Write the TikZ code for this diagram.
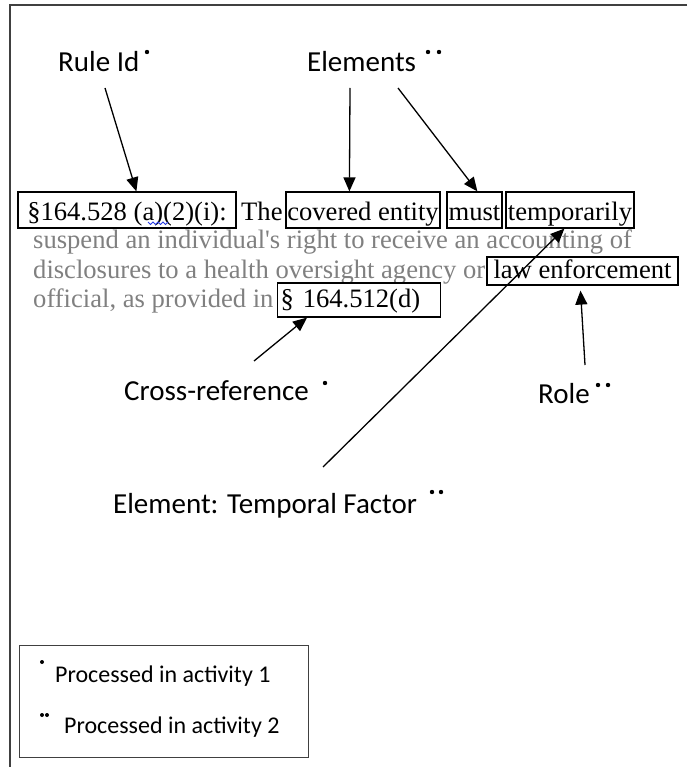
\documentclass[tikz,border=0pt]{standalone}
\usepackage{fontspec}
\setmainfont{Liberation Serif}
\newfontfamily\labelfont{Carlito}
\usetikzlibrary{arrows.meta}
\definecolor{bodygray}{gray}{0.5}
\definecolor{framegray}{gray}{0.25}
\definecolor{spellblue}{RGB}{40,60,230}

\begin{document}
\begin{tikzpicture}[x=1pt,y=-1pt,
  word/.style={draw=black, line width=1.2pt, inner sep=0pt, anchor=base,
    font=\fontsize{26.6}{30}\selectfont},
  body/.style={inner sep=0pt, anchor=base west, text=bodygray,
    font=\fontsize{26.6}{30}\selectfont},
  lbl/.style={inner sep=0pt, anchor=base west, font=\labelfont\fontsize{29}{34}\selectfont},
  leg/.style={inner sep=0pt, anchor=base west, font=\labelfont\fontsize{24}{28}\selectfont},
  arr/.style={line width=1.3pt, -{Triangle[length=14pt,width=12pt]}},
  dotmark/.style={fill=black}
]
\useasboundingbox (0,0) rectangle (687,767);

% open outer frame (top and left edges)
\draw[framegray, line width=1.5pt] (687,5) -- (10,5) -- (10,767);

% ---- the rule text ----
\node[word, minimum width=218, text height=28, text depth=8] (rid) at (127,220) {§164.528 (a)(2)(i):};
\node[body, text=black] (the) at (241,220) {The};
\node[word, minimum width=154, text height=28, text depth=8] (ce) at (363,220) {covered entity};
\node[word, minimum width=55, text height=28, text depth=8] (must) at (474.5,220) {must};
\node[word, minimum width=128, text height=28, text depth=8] (temp) at (570,220) {temporarily};

\node[body] (l2) at (33,248) {suspend an individual\textquotesingle s right to receive an accounting of};
\node[body] (l3) at (33,278) {disclosures to a health oversight agency or};
\node[word, minimum width=191, text height=21, text depth=7] (law) at (582.5,278) {law enforcement};
\node[body] (l4) at (33,307) {official, as provided in};
\node[word, anchor=base west, text width=157, inner xsep=3pt, align=left,
      text height=24, text depth=10] (xref) at (277,307) {§ 164.512(d)};

% spelling squiggle under "a)("
\draw[spellblue, line width=0.8pt] (148,222) -- (150.5,224.5) -- (153,222) -- (155.5,224.5) -- (158,222)
  -- (160.5,224.5) -- (163,222) -- (165.5,224.5) -- (168,222);

% ---- labels ----
\node[lbl] (ruleid) at (58,72) {Rule Id};
\node[lbl] (elements) at (307,72) {Elements};
\node[lbl] (xrefl) at (124,400) {Cross-reference};
\node[lbl] (role) at (538,403) {Role};
\node[lbl] (tempf) at (113,513) {Element: Temporal Factor};

% activity marks
\fill[dotmark] (147,52) circle[radius=2.2];
\fill[dotmark] (428,52) circle[radius=2.2];
\fill[dotmark] (439,52) circle[radius=2.2];
\fill[dotmark] (325,383) circle[radius=2.2];
\fill[dotmark] (598,385) circle[radius=2.2];
\fill[dotmark] (608,385) circle[radius=2.2];
\fill[dotmark] (432,492) circle[radius=2.2];
\fill[dotmark] (441,492) circle[radius=2.2];

% ---- connectors ----
\coordinate (s1) at (105,88);
\coordinate (s2) at (350,88);
\coordinate (s3) at (398,88);
\coordinate (s4) at (254,361);
\coordinate (s5) at (323,467);
\coordinate (s6) at (585,365);
\draw[arr] (s1) -- ([xshift=119pt]rid.north west);
\draw[arr] (s2) -- ([xshift=64pt]ce.north west);
\draw[arr] (s3) -- ([xshift=31pt]must.north west);
\draw[arr] (s4) -- ([xshift=30pt]xref.south west);
\draw[arr] (s5) -- ([xshift=59pt]temp.south west);
\draw[arr] (s6) -- ([xshift=-2pt,yshift=-5pt]law.south);

% ---- legend ----
\node[draw=framegray, line width=1.3pt, minimum width=289, minimum height=112,
      anchor=north west, inner sep=0pt] (legend) at (19,645) {};
\node[leg] (leg1) at (55,682) {Processed in activity 1};
\node[leg] (leg2) at (64,733) {Processed in activity 2};
\fill[dotmark] (42,662) circle[radius=2];
\fill[dotmark] (42,715) circle[radius=2];
\fill[dotmark] (47,715) circle[radius=2];
\end{tikzpicture}
\end{document}
